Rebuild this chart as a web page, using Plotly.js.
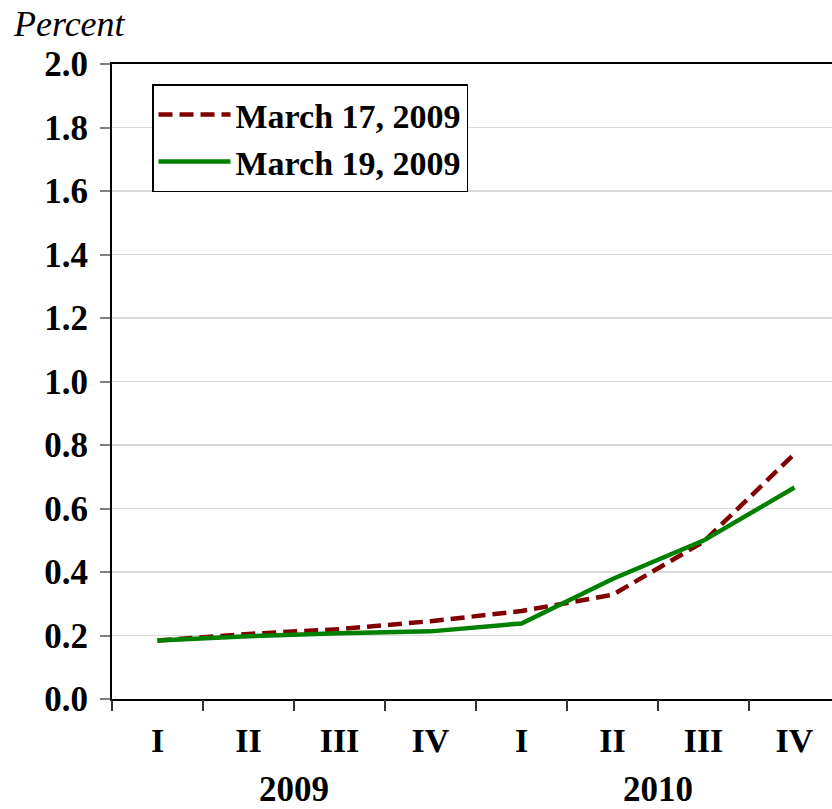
<!DOCTYPE html>
<html>
<head>
<meta charset="utf-8">
<script src="https://cdn.plot.ly/plotly-3.0.1.min.js"></script>
<style>html,body{margin:0;padding:0;background:#fff;}#chart{width:832px;height:809px;}</style>
</head>
<body>
<div id="chart"></div>
<script>
const quarters = ["2009 I","2009 II","2009 III","2009 IV","2010 I","2010 II","2010 III","2010 IV"];
const quarterLabels = ["I","II","III","IV","I","II","III","IV"];
const years = ["2009","2010"];
const march17 = [0.184, 0.205, 0.220, 0.245, 0.277, 0.328, 0.495, 0.772];
const march19 = [0.184, 0.198, 0.207, 0.213, 0.238, 0.378, 0.499, 0.666];
const yTicks = [0,0.2,0.4,0.6,0.8,1.0,1.2,1.4,1.6,1.8,2.0];

const xIdx = quarters.map((q,i)=>i);
const fontFam = "Liberation Serif, Times New Roman, serif";

const traces = [
  {x: xIdx, y: march17, type: "scatter", mode: "lines", name: "March 17, 2009",
   line: {color: "#800000", width: 4.5, dash: "14px,7px"}},
  {x: xIdx, y: march19, type: "scatter", mode: "lines", name: "March 19, 2009",
   line: {color: "#008000", width: 4.5}}
];

const layout = {
  width: 832, height: 809,
  margin: {l: 112, r: 0, t: 64, b: 110},
  paper_bgcolor: "#fff", plot_bgcolor: "#fff",
  showlegend: true,
  legend: {x: 0.0556, y: 0.968, xanchor: "left", yanchor: "top",
    bordercolor: "#000", borderwidth: 1.5, bgcolor: "#fff",
    font: {family: fontFam, size: 34, color: "#000", weight: "bold"},
    tracegroupgap: 0, itemwidth: 72},
  xaxis: {
    range: [-0.5, -0.5 + 720/91], tickmode: "array",
    tickvals: xIdx, ticktext: quarterLabels,
    showline: true, linecolor: "#000", linewidth: 2, mirror: true,
    showgrid: false, zeroline: false,
    ticks: "",
    tickfont: {family: fontFam, size: 34, color: "#000", weight: "bold"},
    ticklabelstandoff: 10
  },
  xaxis2: {
    overlaying: "x", range: [-0.5, -0.5 + 720/91], tickmode: "array",
    tickvals: [-0.5,0.5,1.5,2.5,3.5,4.5,5.5,6.5,7.5], ticktext: ["","","","","","","","",""],
    ticks: "outside", ticklen: 11, tickwidth: 1.5, tickcolor: "#333",
    showline: false, showgrid: false, zeroline: false, side: "bottom", anchor: "y"
  },
  yaxis: {
    range: [0, 2.0], tickmode: "array", tickvals: yTicks,
    ticktext: yTicks.map(v=>v.toFixed(1)),
    showline: true, linecolor: "#000", linewidth: 2,
    showgrid: true, gridcolor: "#d9d9d9", gridwidth: 1.5, zeroline: false,
    ticks: "outside", ticklen: 10, tickwidth: 2, tickcolor: "#808080",
    tickfont: {family: fontFam, size: 35, color: "#000", weight: "bold"},
    ticklabelstandoff: 5
  },
  annotations: [
    {text: "Percent", xref: "paper", yref: "paper", x: -0.14, y: 1.063, xanchor: "left", yanchor: "middle",
     showarrow: false, font: {family: fontFam, size: 36, color: "#000", style: "italic"}},
    {text: years[0], xref: "x", yref: "paper", x: 1.5, y: -0.143, xanchor: "center", yanchor: "middle",
     showarrow: false, font: {family: fontFam, size: 35, color: "#000", weight: "bold"}},
    {text: years[1], xref: "x", yref: "paper", x: 5.5, y: -0.143, xanchor: "center", yanchor: "middle",
     showarrow: false, font: {family: fontFam, size: 35, color: "#000", weight: "bold"}}
  ]
};

traces.push({x: [0], y: [null], xaxis: "x2", yaxis: "y", showlegend: false, hoverinfo: "skip", type: "scatter", mode: "lines"});

Plotly.newPlot("chart", traces, layout, {displayModeBar: false, staticPlot: true});
</script>
</body>
</html>
